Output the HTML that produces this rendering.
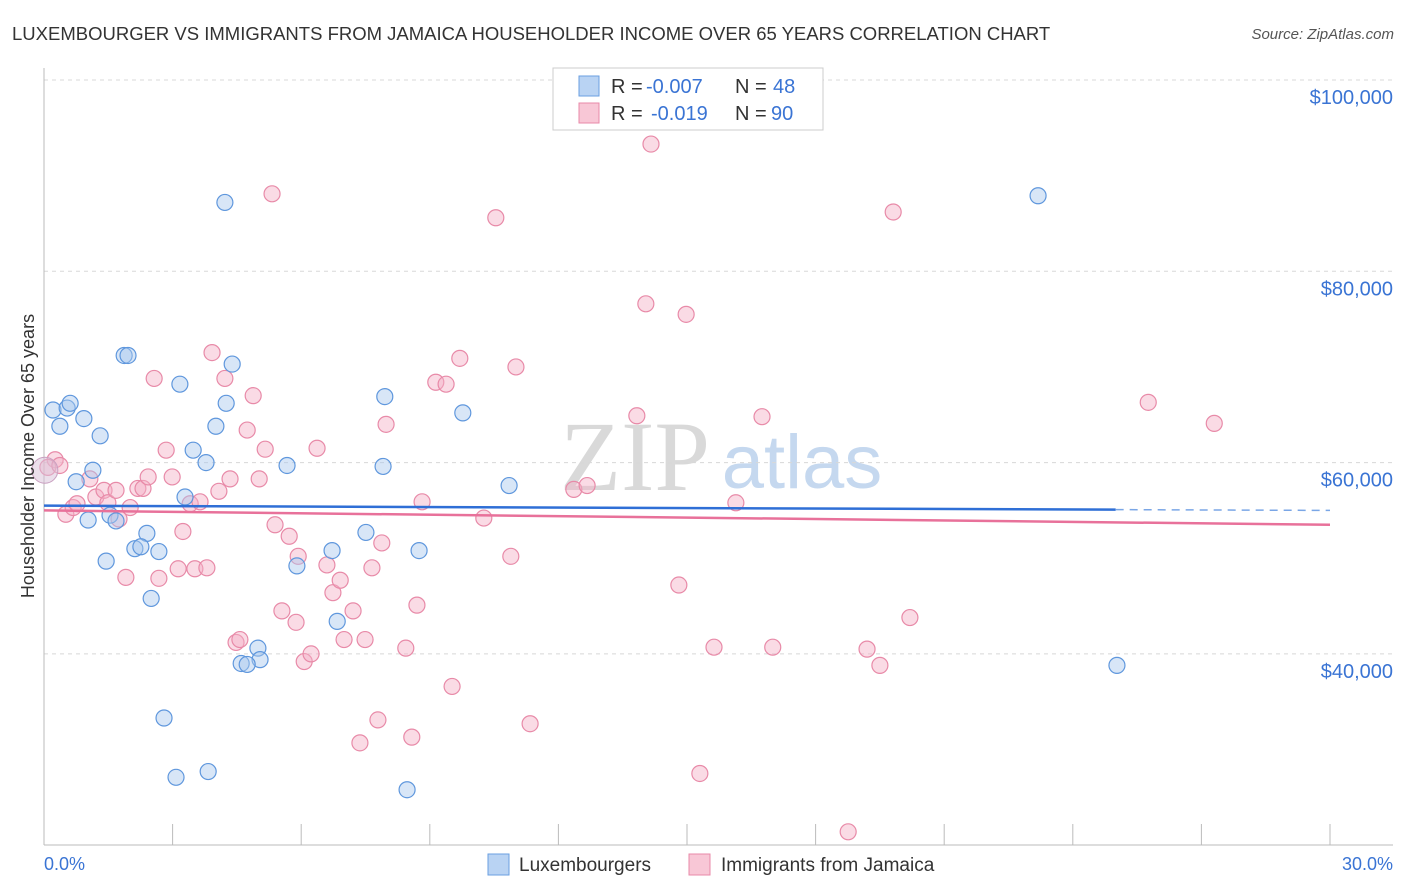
<!DOCTYPE html>
<html><head><meta charset="utf-8"><style>
body{margin:0;background:#fff;font-family:"Liberation Sans",sans-serif;}
svg{display:block}
</style></head><body>
<svg id="chart" width="1406" height="892">
<text x="12" y="40" font-size="18.5" fill="#333">LUXEMBOURGER VS IMMIGRANTS FROM JAMAICA HOUSEHOLDER INCOME OVER 65 YEARS CORRELATION CHART</text>
<text x="1394" y="39" font-size="15" fill="#555" font-style="italic" text-anchor="end">Source: ZipAtlas.com</text>
<g>
<text x="635" y="490" font-size="100" fill="#d9d9d9" font-family="Liberation Serif,serif" text-anchor="middle">ZIP</text>
<text x="802" y="488" font-size="76" fill="#c5d8ef" text-anchor="middle">atlas</text>
</g>
<g id="grid"></g>
<g id="axes"></g>
<g id="marks"></g>
<text transform="translate(34,456) rotate(-90)" font-size="18" fill="#333" text-anchor="middle">Householder Income Over 65 years</text>
<text x="44" y="870" font-size="18" fill="#3a74d4">0.0%</text>
<text x="1393" y="870" font-size="18" fill="#3a74d4" text-anchor="end">30.0%</text>
<g>
<rect x="553" y="68" width="270" height="62" fill="#fff" stroke="#ccc"/>
<rect x="579" y="76" width="20" height="20" fill="#b9d3f3" stroke="#6a9fe0"/>
<rect x="579" y="103" width="20" height="20" fill="#f8c7d6" stroke="#e88aa8"/>
<text x="611" y="93" font-size="20" fill="#333">R =</text>
<text x="646" y="93" font-size="20" fill="#3a74d4">-0.007</text>
<text x="735" y="93" font-size="20" fill="#333">N =</text>
<text x="773" y="93" font-size="20" fill="#3a74d4">48</text>
<text x="611" y="120" font-size="20" fill="#333">R =</text>
<text x="651" y="120" font-size="20" fill="#3a74d4">-0.019</text>
<text x="735" y="120" font-size="20" fill="#333">N =</text>
<text x="771" y="120" font-size="20" fill="#3a74d4">90</text>
</g>
<g>
<rect x="488" y="854" width="21" height="21" fill="#b9d3f3" stroke="#6a9fe0"/>
<text x="519" y="871" font-size="19" fill="#333">Luxembourgers</text>
<rect x="689" y="854" width="21" height="21" fill="#f8c7d6" stroke="#e88aa8"/>
<text x="721" y="871" font-size="19" fill="#333">Immigrants from Jamaica</text>
</g>
</svg>
<script>
const yTicks=[40000,60000,80000,100000];
const yTickLabels=["$40,000","$60,000","$80,000","$100,000"];
const xTicks=[0,3,6,9,12,15,18,21,24,27,30];
const luxX=[0.21,0.37,0.54,0.61,0.93,1.31,1.14,0.75,1.03,1.45,1.54,1.68,1.87,1.96,3.17,2.40,2.12,2.26,2.68,2.50,3.29,3.48,3.78,4.22,4.25,4.01,4.39,2.80,3.08,3.83,4.99,5.04,4.60,4.74,5.67,5.90,6.72,6.84,7.51,7.95,7.91,8.75,8.47,9.77,10.85,23.19,25.03];
const luxY=[65500,63800,65700,66200,64600,62800,59200,58000,54000,49700,54500,53900,71200,71200,68200,52600,51000,51200,50700,45800,56400,61300,60000,87200,66200,63800,70300,33300,27100,27700,40600,39400,39000,38900,59700,49200,50800,43400,52700,66900,59600,50800,25800,65200,57600,87900,38800];
const jamX=[0.26,0.09,0.37,0.51,0.68,0.77,1.07,1.21,1.40,1.49,1.68,1.75,1.91,2.01,2.19,2.31,2.43,2.57,2.68,2.85,2.99,3.13,3.24,3.41,3.52,3.64,3.80,3.92,4.08,4.22,4.34,4.48,4.57,4.74,4.88,5.02,5.16,5.32,5.39,5.55,5.72,5.88,5.93,6.07,6.23,6.37,6.60,6.74,6.91,7.00,7.21,7.37,7.49,7.65,7.79,7.88,7.98,8.44,8.58,8.70,8.82,9.14,9.38,9.52,9.70,10.26,10.54,10.89,11.01,11.34,12.36,12.67,13.83,14.04,14.16,14.81,14.98,15.30,15.63,16.14,16.75,17.00,18.76,19.20,19.50,19.81,20.20,25.76,27.30];
const jamY=[60300,59500,59700,54600,55300,55700,58300,56400,57100,55800,57100,54100,48000,55300,57300,57300,58500,68800,47900,61300,58500,48900,52800,55700,48900,55900,49000,71500,57000,68800,58300,41200,41500,63400,67000,58300,61400,88100,53500,44500,52300,43300,50200,39200,40000,61500,49300,46400,47700,41500,44500,30700,41500,49000,33100,51600,64000,40600,31300,45100,55900,68400,68200,36600,70900,54200,85600,50200,70000,32700,57200,57600,64900,76600,93300,47200,75500,27500,40700,55800,64800,40700,21400,40500,38800,86200,43800,66300,64100];
const luxBig=[0.02,59200];
const luxTrend=[55500,55000];
const jamTrend=[55000,53500];
const NS="http://www.w3.org/2000/svg";
const X0=44,X1=1330,Y100=80,PXPER=191.3/20000;
function sx(p){return X0+(p/30)*(X1-X0);}
function sy(v){return Y100+(100000-v)*PXPER;}
function mk(tag,attrs,parent){const e=document.createElementNS(NS,tag);for(const k in attrs)e.setAttribute(k,attrs[k]);parent.appendChild(e);return e;}
const grid=document.getElementById('grid'),axes=document.getElementById('axes'),marks=document.getElementById('marks');
yTicks.forEach((v,i)=>{
 const l=mk('line',{x1:X0,x2:1393,y1:sy(v),y2:sy(v),stroke:'#d8d8d8','stroke-dasharray':'4,4'},grid);
 
 
 const t=mk('text',{x:1393,y:sy(v)+24,'font-size':20,fill:'#3a74d4','text-anchor':'end'},axes);
 t.textContent=yTickLabels[i];
 
 
});
const ya=mk('line',{x1:X0,x2:X0,y1:68,y2:845,stroke:'#bbb'},axes);


const xa=mk('line',{x1:X0,x2:1393,y1:845,y2:845,stroke:'#bbb'},axes);


xTicks.forEach(p=>{
 const l=mk('line',{x1:sx(p),x2:sx(p),y1:824,y2:845,stroke:'#bbb'},axes);
 
 
});
function pts(xs,ys,fill,stroke,name){
 xs.forEach((x,i)=>{
  const c=mk('circle',{cx:sx(x),cy:sy(ys[i]),r:8,fill:fill,'fill-opacity':0.45,stroke:stroke,'stroke-width':1.2},marks);
  
  
 });
}
pts(jamX,jamY,'#f5b0c5','#e88aa8','point-jamaica');
pts(luxX,luxY,'#a9c8ee','#5f97dd','point-luxembourger');
const big=mk('circle',{cx:sx(luxBig[0]),cy:sy(luxBig[1]),r:13,fill:'#d8c0d8','fill-opacity':0.5,stroke:'#c9a0c0'},marks);


const lb=luxTrend[0]+(luxTrend[1]-luxTrend[0])*25/30;
const t1=mk('line',{x1:sx(0),y1:sy(luxTrend[0]),x2:sx(25),y2:sy(lb),stroke:'#2f6fd6','stroke-width':2.5},marks);


const t1d=mk('line',{x1:sx(25),y1:sy(lb),x2:sx(30),y2:sy(luxTrend[1]),stroke:'#7aa6e6','stroke-width':1.5,'stroke-dasharray':'8,6'},marks);


const t2=mk('line',{x1:sx(0),y1:sy(jamTrend[0]),x2:sx(30),y2:sy(jamTrend[1]),stroke:'#e8719a','stroke-width':2.5},marks);


</script>
</body></html>
